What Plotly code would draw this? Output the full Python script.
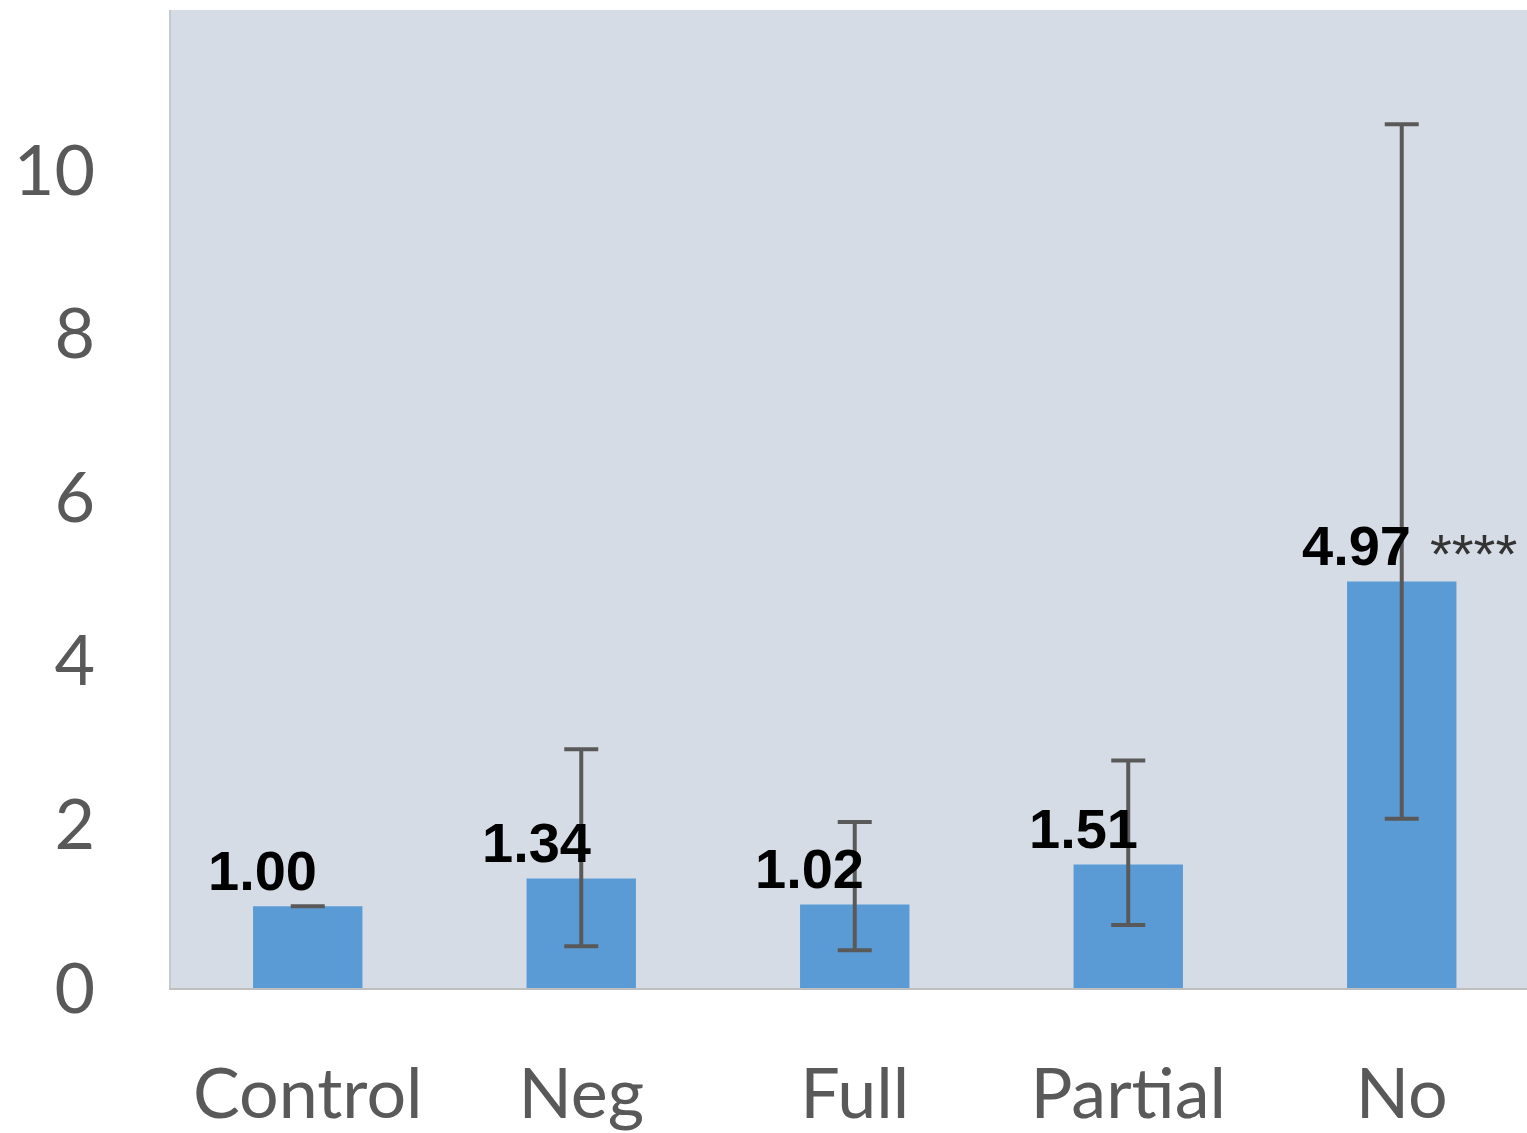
import plotly.graph_objects as go

# Fold-change per group with asymmetric error ranges
categories = ["Control", "Neg", "Full", "Partial", "No"]
values = [1.00, 1.34, 1.02, 1.51, 4.97]
err_plus = [0.0, 1.58, 1.01, 1.27, 5.59]
err_minus = [0.0, 0.83, 0.56, 0.74, 2.90]
significance = ["", "", "", "", "****"]
y_ticks = [0, 2, 4, 6, 8, 10]

BAR = "#5b9bd5"
ERR = "#595959"
TICK = "#595959"

fig = go.Figure()
fig.add_trace(go.Bar(
    x=list(range(len(categories))),
    y=values,
    width=0.4,
    marker=dict(color=BAR, line=dict(width=0)),
    error_y=dict(
        type="data",
        symmetric=False,
        array=err_plus,
        arrayminus=err_minus,
        color=ERR,
        thickness=4,
        width=17,
    ),
    hoverinfo="skip",
))

# Value labels above each bar, offset to the left
for i, v in enumerate(values):
    fig.add_annotation(
        x=i, y=v, xref="x", yref="y",
        text=f"{v:.2f}",
        showarrow=False,
        xshift=-45, yshift=36,
        font=dict(family="Liberation Sans, Arial", size=56, color="#000000",
                  weight="bold"),
        xanchor="center", yanchor="middle",
    )
    if significance[i]:
        fig.add_annotation(
            x=i, y=v, xref="x", yref="y",
            text=significance[i],
            showarrow=False,
            xshift=26, yshift=28,
            font=dict(family="Liberation Sans, Arial", size=56, color="#333333"),
            xanchor="left", yanchor="middle",
        )

fig.update_layout(
    width=1527, height=1133,
    margin=dict(l=171, r=0, t=10, b=145),
    paper_bgcolor="#ffffff",
    plot_bgcolor="#d6dce5",
    showlegend=False,
    bargap=0.6,
)
fig.update_xaxes(
    range=[-0.5, 4.458],
    tickmode="array",
    tickvals=list(range(len(categories))),
    ticktext=categories,
    tickfont=dict(family="Lato, Open Sans", size=70, color=TICK),
    ticks="",
    ticklabelstandoff=44,
    automargin=False,
    showgrid=False,
    zeroline=False,
    showline=True, linecolor="#bfbfbf", linewidth=2,
)
fig.update_yaxes(
    range=[0, 11.956],
    tickmode="array",
    tickvals=y_ticks,
    ticktext=[str(t) for t in y_ticks],
    tickfont=dict(family="Lato, Open Sans", size=70, color=TICK),
    ticks="",
    ticklabelstandoff=60,
    automargin=False,
    showgrid=False,
    zeroline=False,
    showline=True, linecolor="#c4c8cf", linewidth=2,
)

fig.write_html("out.html")
